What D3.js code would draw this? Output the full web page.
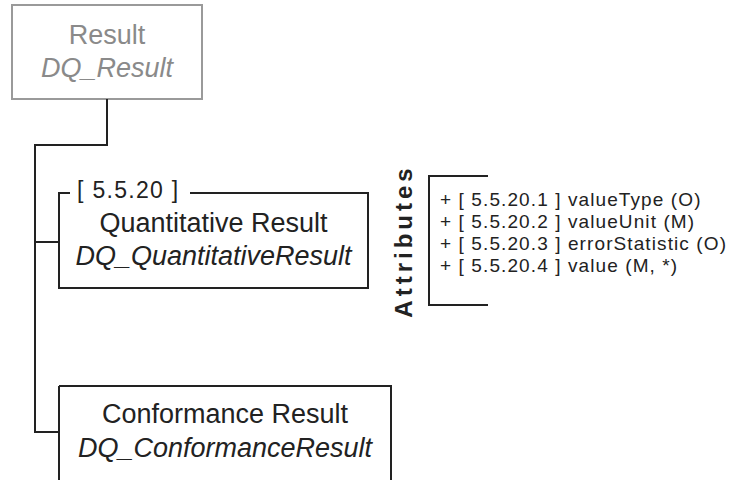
<!DOCTYPE html>
<html>
<head>
    <title>DQ_Result</title>
    <script src="https://d3js.org/d3.v7.min.js"></script>
    <style>
        body { margin: 0; background: #fff; }
        text { font-family: "Liberation Sans", Arial, sans-serif; }
    </style>
</head>
<body>
    <svg width="738" height="480"></svg>

    <script>
    // diagram content
    const parentName = ["Result", "DQ_Result"];
    const classNames = ["Quantitative Result", "Conformance Result"];
    const classTypes = ["DQ_QuantitativeResult", "DQ_ConformanceResult"];
    const classIds = ["[ 5.5.20 ]", ""];
    const attrIds = ["5.5.20.1", "5.5.20.2", "5.5.20.3", "5.5.20.4"];
    const attrNames = ["valueType", "valueUnit", "errorStatistic", "value"];
    const attrFlags = ["(O)", "(M)", "(O)", "(M, *)"];

    const svg = d3.select("svg");
    const ink = "#222";

    // layout
    const parent = {x: 12, y: 5, w: 190, h: 94};
    const boxes = [
        {x: 59, y: 193, w: 309, h: 95},
        {x: 59, y: 386, w: 332, h: 110}
    ];
    const trunkX = 35, elbowY = 145;
    const branchY = [242, 432];

    const line = d3.line();

    // parent box
    svg.append("rect")
        .attr("x", parent.x).attr("y", parent.y)
        .attr("width", parent.w).attr("height", parent.h)
        .attr("fill", "none").attr("stroke", "#9a9a9a").attr("stroke-width", 2);

    svg.selectAll("text.parent")
        .data(parentName)
        .enter().append("text")
        .attr("class", "parent")
        .attr("x", parent.x + parent.w / 2)
        .attr("y", (d, i) => 44 + i * 33)
        .attr("text-anchor", "middle")
        .attr("font-size", 27)
        .attr("font-style", (d, i) => i ? "italic" : "normal")
        .attr("fill", "#8a8a8a")
        .text(d => d);

    // connectors
    const cx = parent.x + parent.w / 2;
    svg.append("path")
        .attr("d", line([[cx, parent.y + parent.h], [cx, elbowY], [trunkX, elbowY], [trunkX, branchY[1]]]))
        .attr("fill", "none").attr("stroke", ink).attr("stroke-width", 2);

    svg.selectAll("path.branch")
        .data(branchY)
        .enter().append("path")
        .attr("class", "branch")
        .attr("d", d => line([[trunkX - 1, d], [boxes[0].x, d]]))
        .attr("stroke", ink).attr("stroke-width", 2);

    // class boxes
    const g = svg.selectAll("g.cls")
        .data(classNames.map((n, i) => ({name: n, type: classTypes[i], id: classIds[i], b: boxes[i]})))
        .enter().append("g")
        .attr("class", "cls");

    g.append("path")
        .attr("d", d => {
            const b = d.b;
            if (d.id) {
                // top edge broken by the id label
                return line([[b.x + 11, b.y], [b.x, b.y], [b.x, b.y + b.h], [b.x + b.w, b.y + b.h], [b.x + b.w, b.y], [b.x + 131, b.y]]);
            }
            return line([[b.x, b.y], [b.x, b.y + b.h], [b.x + b.w, b.y + b.h], [b.x + b.w, b.y], [b.x, b.y]]);
        })
        .attr("fill", "none").attr("stroke", ink).attr("stroke-width", 2);

    g.filter(d => d.id).append("text")
        .attr("x", d => d.b.x + 18)
        .attr("y", d => d.b.y + 5)
        .attr("font-size", 23)
        .attr("letter-spacing", 1.3)
        .attr("fill", ink)
        .text(d => d.id);

    g.append("text")
        .attr("x", d => d.b.x + d.b.w / 2)
        .attr("y", d => d.b.y + (d.id ? 39 : 37))
        .attr("text-anchor", "middle")
        .attr("font-size", 27)
        .attr("fill", ink)
        .text(d => d.name);

    g.append("text")
        .attr("x", d => d.b.x + d.b.w / 2)
        .attr("y", d => d.b.y + (d.id ? 72 : 71))
        .attr("text-anchor", "middle")
        .attr("font-size", 27)
        .attr("font-style", "italic")
        .attr("fill", ink)
        .text(d => d.type);

    // attributes bracket
    const br = {x: 429, y0: 176, y1: 305, x1: 488};
    svg.append("path")
        .attr("d", line([[br.x1, br.y0], [br.x, br.y0], [br.x, br.y1], [br.x1, br.y1]]))
        .attr("fill", "none").attr("stroke", ink).attr("stroke-width", 2);

    svg.append("text")
        .attr("transform", "translate(412,241) rotate(-90)")
        .attr("text-anchor", "middle")
        .attr("font-size", 24)
        .attr("font-weight", "bold")
        .attr("letter-spacing", 4)
        .attr("fill", ink)
        .text("Attributes");

    // attribute list
    const rowY = d3.scalePoint().domain(attrIds).range([206, 272]);

    svg.selectAll("text.attr")
        .data(attrIds)
        .enter().append("text")
        .attr("class", "attr")
        .attr("x", 440)
        .attr("y", d => rowY(d))
        .attr("font-size", 19)
        .attr("letter-spacing", 1.1)
        .attr("fill", ink)
        .text((d, i) => `+ [ ${d} ] ${attrNames[i]} ${attrFlags[i]}`);
    </script>
</body>
</html>
